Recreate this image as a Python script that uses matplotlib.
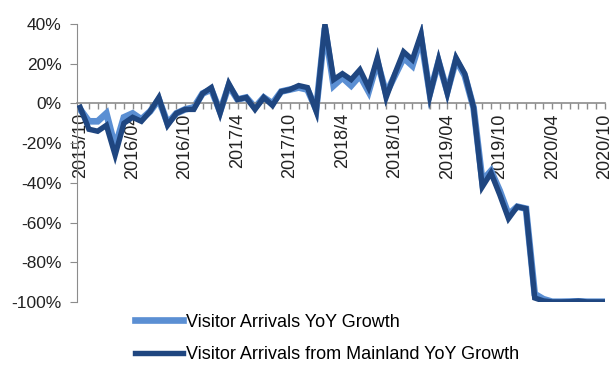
import numpy as np
import matplotlib
matplotlib.use("Agg")
import matplotlib.pyplot as plt
from matplotlib.ticker import FixedLocator, MultipleLocator, FuncFormatter

plt.rcParams['font.family'] = ['Liberation Sans', 'DejaVu Sans']

# monthly YoY growth (%), Oct 2015 - Oct 2020
total_yoy = [-3, -9, -9, -5, -22, -7, -5, -8, -4, 2,
             -10, -5, -3, -2, 5, 7, -4, 9, 2, 3,
             -2, 3, 0, 6, 7, 8, 7, -3, 38, 9,
             13, 9, 14, 6, 21, 5, 14, 23, 19, 33,
             5, 21, 6, 22, 14, -2, -39, -34, -44, -56,
             -52, -53, -96, -98.6, -99.9, -99.9, -99.8, -99.7, -99.9, -99.9,
             -99.9]
mainland_yoy = [-2, -13, -14, -11, -26, -10, -7, -9, -4, 3,
                -11, -5, -3, -3, 5, 8, -5, 10, 2, 3,
                -3, 3, -1, 6, 7, 9, 8, -4, 40, 12,
                15, 12, 17, 8, 23, 3, 15, 26, 22, 35,
                4, 22, 5, 23, 15, -2, -42, -35, -46, -58,
                -52, -53, -98, -99.5, -100, -100, -99.9, -99.6, -100, -100,
                -100]
tick_labels = ["2015/10", "2016/04", "2016/10", "2017/4", "2017/10", "2018/4",
               "2018/10", "2019/04", "2019/10", "2020/04", "2020/10"]

x = np.arange(len(total_yoy))

fig = plt.figure(figsize=(6.12, 3.70), dpi=100)
ax = fig.add_axes([0.126, 0.184, 0.862, 0.751])

ax.plot(x, total_yoy, color='#5b8fd3', lw=4.8, solid_joinstyle='miter',
        label='Visitor Arrivals YoY Growth', zorder=2)
ax.plot(x, mainland_yoy, color='#1f4680', lw=3.9, solid_joinstyle='miter',
        label='Visitor Arrivals from Mainland YoY Growth', zorder=3)

ax.set_xlim(-0.35, 60)
ax.set_ylim(-100, 40)

grey = '#8c8c8c'
for side in ('top', 'right'):
    ax.spines[side].set_visible(False)
ax.spines['left'].set_color(grey)
ax.spines['bottom'].set_color(grey)
ax.spines['bottom'].set_position(('data', 0))
ax.spines['bottom'].set_linewidth(1.2)

ax.yaxis.set_major_locator(MultipleLocator(20))
ax.yaxis.set_major_formatter(FuncFormatter(lambda v, p: f"{v:.0f}%"))
ax.tick_params(axis='y', colors=grey, length=5, labelsize=12.5,
               labelcolor='#222222', pad=6)

ax.xaxis.set_major_locator(FixedLocator(x[::6]))
ax.xaxis.set_minor_locator(MultipleLocator(1))
ax.set_xticklabels(tick_labels, rotation=90, va='top', ha='center')
ax.tick_params(axis='x', which='both', colors=grey, length=4, width=1,
               labelsize=13, labelcolor='#222222', pad=3)

fig.legend(loc='upper left', bbox_to_anchor=(0.22, 0.152), frameon=False,
           fontsize=13, handlelength=2.7, handletextpad=0.15,
           labelspacing=0.85, borderpad=0, borderaxespad=0)

fig.savefig('out.png', dpi=100)
